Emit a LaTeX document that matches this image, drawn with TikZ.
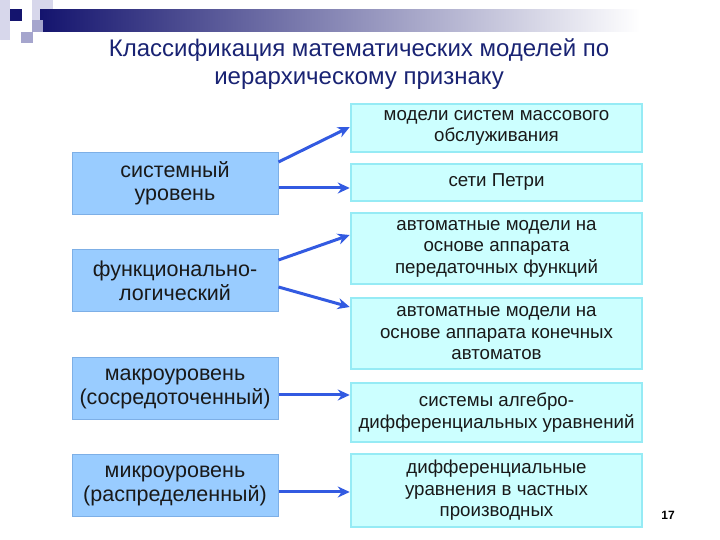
\documentclass[tikz,border=0pt]{standalone}
\usepackage{fontspec}
\setmainfont{Liberation Sans}
\usetikzlibrary{arrows.meta}
\definecolor{titleNavy}{RGB}{25, 35, 115}
\definecolor{levelBlue}{RGB}{153, 204, 255}
\definecolor{levelEdge}{RGB}{125, 175, 230}
\definecolor{modelCyan}{RGB}{204, 255, 255}
\definecolor{modelEdge}{RGB}{150, 235, 245}
\definecolor{arrowBlue}{RGB}{50, 90, 225}
\definecolor{decoNavy}{RGB}{20, 20, 110}
\definecolor{decoLight}{RGB}{215, 215, 235}
\definecolor{decoMid}{RGB}{165, 165, 205}

\begin{document}
\begin{tikzpicture}[x=1pt, y=1pt,
    level/.style={draw=levelEdge, line width=1pt, fill=levelBlue, minimum width=206pt,
      minimum height=62pt, inner xsep=2pt, align=center, text=black!90, font=\fontsize{21.5}{23.5}\selectfont},
    model/.style={draw=modelEdge, line width=2.5pt, fill=modelCyan, minimum width=291pt,
      inner xsep=2pt, inner ysep=1pt, align=center, text=black!90, font=\fontsize{18.7}{21.5}\selectfont},
    link/.style={arrowBlue, line width=3pt, -{Stealth[length=12pt, width=11pt]}}]
        \useasboundingbox (0,0) rectangle (720,540);
        % Corner decoration
        \fill[decoLight] (0,540) rectangle (10,500);
        \fill[decoLight] (32,540) rectangle (53,518);
        \shade[left color=decoNavy, right color=white] (40,530) rectangle (640,508);
        \fill[decoMid] (32,520) rectangle (43,508);
        \fill[decoNavy] (10,531) rectangle (22,519);
        \fill[decoMid] (21,508) rectangle (33,497);
        % Title
        \node[titleNavy, font=\fontsize{24}{28}\selectfont, align=center] (title) at (359,476)
          {Классификация математических моделей по\\иерархическому признаку};
        % Levels
        \node[level] (sys) at (175,356.5) {системный\\уровень};
        \node[level] (fun) at (175,259) {функционально-\\логический};
        \node[level] (mac) at (175,151) {макроуровень\\(сосредоточенный)};
        \node[level] (mic) at (175,54) {микроуровень\\(распределенный)};
        % Models
        \node[model, minimum height=48pt] (mss) at (496.5,412) {модели систем массового\\обслуживания};
        \node[model, minimum height=37pt] (petri) at (496.5,357.5) {сети Петри};
        \node[model, minimum height=71pt] (tf) at (496.5,291.5) {автоматные модели на\\основе аппарата\\передаточных функций};
        \node[model, minimum height=71pt] (fsm) at (496.5,206.5) {автоматные модели на\\основе аппарата конечных\\автоматов};
        \node[model, minimum height=59pt] (dae) at (496.5,127.5) {системы алгебро-\\дифференциальных уравнений};
        \node[model, minimum height=73pt] (pde) at (496.5,49.5) {дифференциальные\\уравнения в частных\\производных};
        % Links
        \draw[link] ([yshift=21.5pt]sys.east) -- ([yshift=1pt]mss.west);
        \draw[link] ([yshift=-4.5pt]sys.east) -- ([yshift=-5.5pt]petri.west);
        \draw[link] ([yshift=21pt]fun.east) -- ([yshift=13.5pt]tf.west);
        \draw[link] ([yshift=-6pt]fun.east) -- ([yshift=26.5pt]fsm.west);
        \draw[link] ([yshift=-6pt]mac.east) -- ([yshift=17.5pt]dae.west);
        \draw[link] ([yshift=-6pt]mic.east) -- ([yshift=-1.5pt]pde.west);
        % Page number
        \node[font=\bfseries\fontsize{12}{14}\selectfont] (page) at (668,25) {17};
      \end{tikzpicture}
\end{document}
